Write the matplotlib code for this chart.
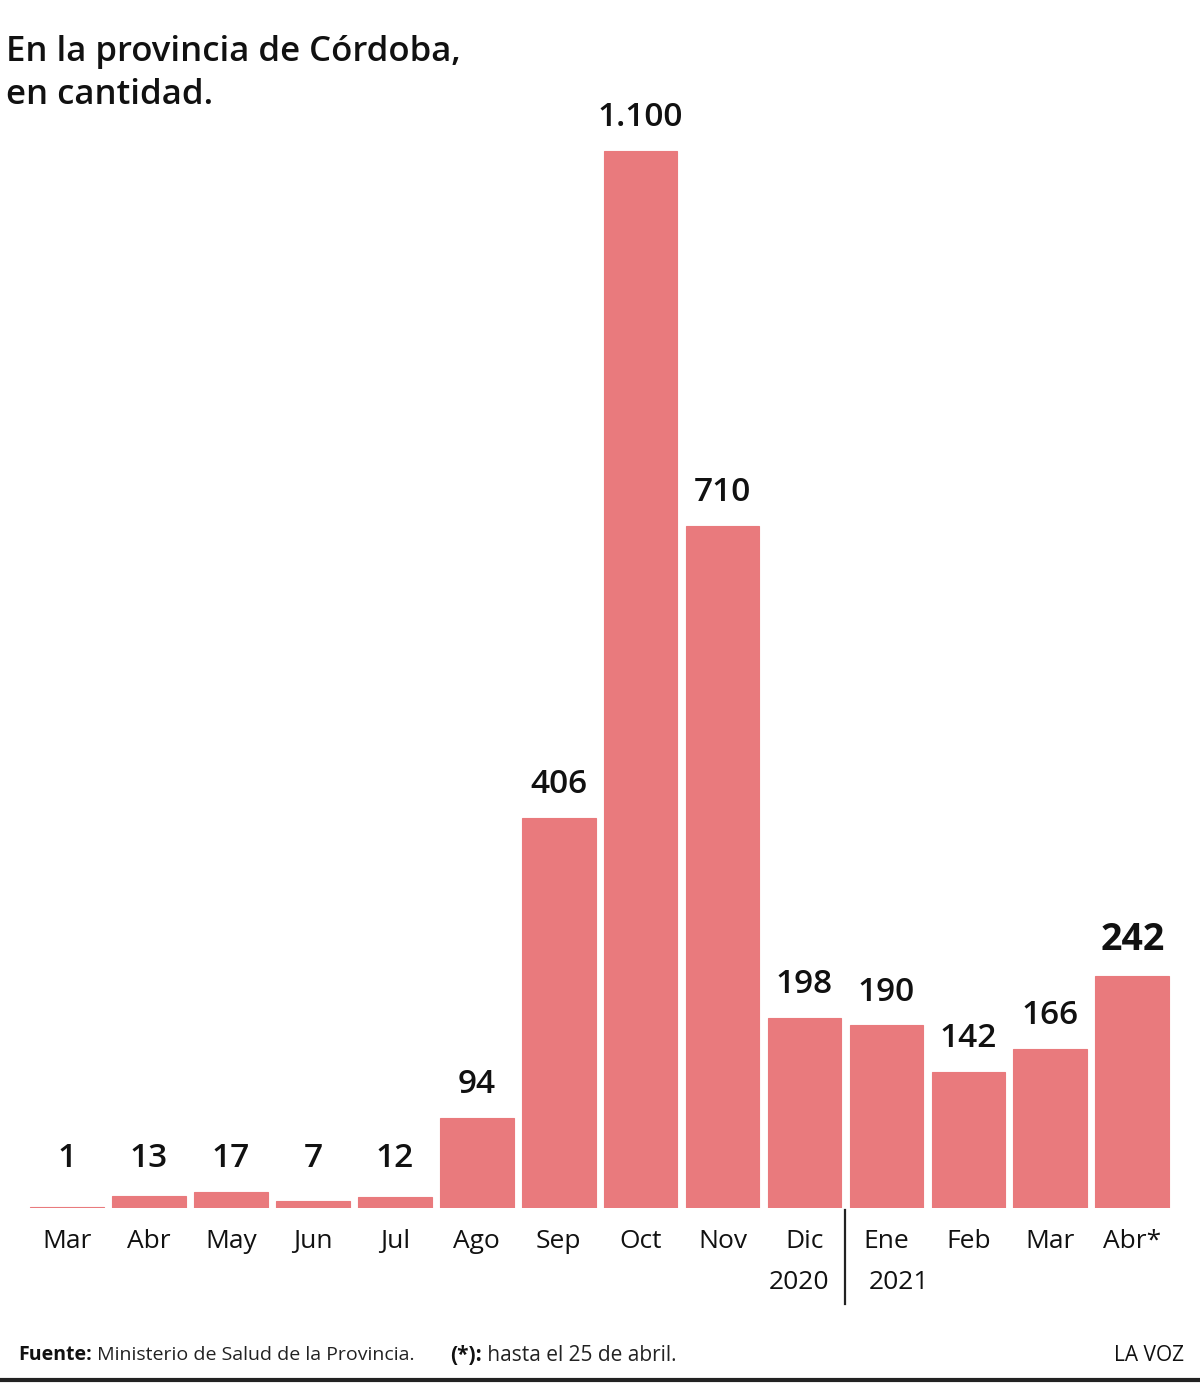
import numpy as np
import matplotlib.pyplot as plt
import matplotlib.lines as mlines

# datos
meses = ['Mar', 'Abr', 'May', 'Jun', 'Jul', 'Ago', 'Sep', 'Oct', 'Nov', 'Dic', 'Ene', 'Feb', 'Mar', 'Abr*']
valores = [1, 13, 17, 7, 12, 94, 406, 1100, 710, 198, 190, 142, 166, 242]
etiquetas = ['1', '13', '17', '7', '12', '94', '406', '1.100', '710', '198', '190', '142', '166', '242']
anios = ['2020', '2021']

color = '#E97A7D'
fuente = 'Open Sans'

fig = plt.figure(figsize=(12, 13.83), dpi=100)
ax = fig.add_axes([0.0217, 0.1265, 0.956, 0.8337])

x = np.arange(len(meses))
ax.bar(x, valores, width=0.9, color=color, edgecolor=color, linewidth=0.8)
ax.set_xlim(-0.5, 13.5)
ax.set_ylim(0, 1200)

# etiquetas de valores
for i, (v, lab) in enumerate(zip(valores, etiquetas)):
    bold = i == len(valores) - 1
    ax.annotate(lab, (i, max(v, 17)), xytext=(0, 12), textcoords='offset points',
                ha='center', va='bottom', family=fuente,
                fontsize=27 if bold else 24, fontweight='bold' if bold else 'semibold',
                color='#111111')

ax.set_xticks(x)
ax.set_xticklabels(meses, family=fuente, fontsize=19, color='#111111')
ax.tick_params(axis='x', length=0, pad=15)
ax.set_yticks([])
for s in ax.spines.values():
    s.set_visible(False)

# años
ax.text(9.3, -78, anios[0], ha='right', va='center', family=fuente, fontsize=19, color='#111111')
ax.text(10.15, -78, anios[1], ha='center', va='center', family=fuente, fontsize=19, color='#111111')
ax.plot([9.5, 9.5], [-2, -100], color='#222222', lw=1.6, clip_on=False)

# titulo
fig.text(0.005, 0.947, 'En la provincia de Córdoba,\nen cantidad.', family=fuente,
         fontsize=25, fontweight='semibold', va='center', ha='left', linespacing=1.35,
         color='#111111')

# pie
t1 = fig.text(0.015, 0.02, 'Fuente:', family=fuente, fontsize=14,
              fontweight='bold', va='center', color='#111111')
ax.annotate(' Ministerio de Salud de la Provincia.', xy=(1.0, 0.5), xycoords=t1,
            va='center', ha='left', family=fuente, fontsize=14, color='#222222',
            annotation_clip=False)
t3 = fig.text(0.375, 0.02, '(*):', family=fuente, fontsize=15,
              fontweight='bold', va='center', color='#111111')
ax.annotate(' hasta el 25 de abril.', xy=(1.0, 0.5), xycoords=t3,
            va='center', ha='left', family=fuente, fontsize=15, color='#222222',
            annotation_clip=False)
fig.text(0.987, 0.02, 'LA VOZ', family=fuente, fontsize=15,
         ha='right', va='center', color='#111111')
fig.add_artist(mlines.Line2D([0, 1], [0.0025, 0.0025], color='#222222', lw=3))

fig.savefig('out.png', dpi=100)
